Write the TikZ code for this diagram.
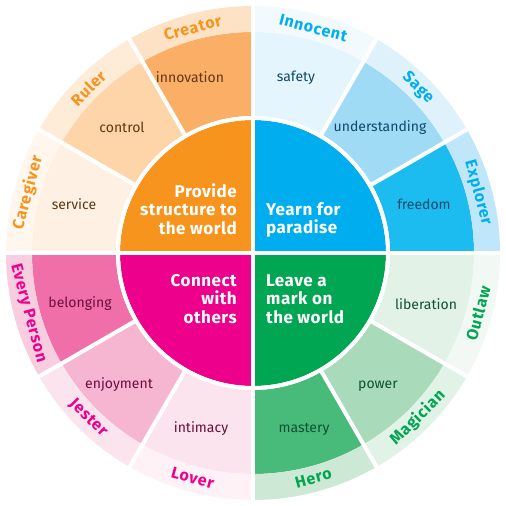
\documentclass[tikz,border=0pt]{standalone}
\usepackage{fontspec}
\setmainfont{Fira Sans}
\usepackage{xcolor}
\usepackage{tikz}
\usetikzlibrary{positioning}

% quadrant colours
\definecolor{orgMain}{HTML}{F7941D}
\definecolor{orgA}{HTML}{FBAF66}
\definecolor{orgB}{HTML}{FDD5A8}
\definecolor{orgC}{HTML}{FEF1E3}
\definecolor{orgBandA}{HTML}{FDE2C5}
\definecolor{orgBandB}{HTML}{FEEBD8}
\definecolor{orgBandC}{HTML}{FFF7EE}
\definecolor{orgText}{HTML}{603813}
\definecolor{bluMain}{HTML}{00AEEF}
\definecolor{bluA}{HTML}{1CBCF0}
\definecolor{bluB}{HTML}{A0DBF6}
\definecolor{bluC}{HTML}{E5F5FD}
\definecolor{bluBandA}{HTML}{BFE7F9}
\definecolor{bluBandB}{HTML}{DFF2FC}
\definecolor{bluBandC}{HTML}{F2FAFE}
\definecolor{bluText}{HTML}{0D4A6B}
\definecolor{grnMain}{HTML}{00A651}
\definecolor{grnA}{HTML}{48BA7A}
\definecolor{grnB}{HTML}{A9DBBA}
\definecolor{grnC}{HTML}{E2F2E7}
\definecolor{grnBandA}{HTML}{CDE9D6}
\definecolor{grnBandB}{HTML}{E1F2E6}
\definecolor{grnBandC}{HTML}{F2F9F4}
\definecolor{grnText}{HTML}{0E5130}
\definecolor{pnkMain}{HTML}{EC008C}
\definecolor{pnkA}{HTML}{F06FA8}
\definecolor{pnkB}{HTML}{F6B5D0}
\definecolor{pnkC}{HTML}{FCE4EF}
\definecolor{pnkBandA}{HTML}{F9CDE0}
\definecolor{pnkBandB}{HTML}{FCE4EF}
\definecolor{pnkBandC}{HTML}{FEF2F7}
\definecolor{pnkText}{HTML}{6B0F3F}

% ring piece: colour, start angle, end angle, inner radius, outer radius
\newcommand{\ringseg}[5]{%
  \fill[#1] (#2:#4) arc[start angle=#2, end angle=#3, radius=#4pt]
    -- (#3:#5) arc[start angle=#3, end angle=#2, radius=#5pt] -- cycle;}
% centre quarter: colour, start angle, end angle
\newcommand{\quarter}[3]{%
  \fill[#1] (0,0) -- (#2:133) arc[start angle=#2, end angle=#3, radius=133pt] -- cycle;}

\begin{document}
\begin{tikzpicture}[x=1pt, y=1pt,
  archetype/.style={font=\fontsize{16}{16}\selectfont\bfseries\addfontfeature{LetterSpace=5}, inner sep=0pt},
  value/.style={font=\fontsize{14}{14}\selectfont, inner sep=0pt},
  drive/.style={font=\fontsize{17}{18.3}\selectfont\bfseries\addfontfeature{LetterSpace=3}, text=white, inner sep=0pt}]
\useasboundingbox (-253,-253) rectangle (253,253);

% centre quarters
\quarter{bluMain}{0}{90}
\quarter{orgMain}{90}{180}
\quarter{pnkMain}{180}{270}
\quarter{grnMain}{270}{360}

% middle ring
\ringseg{bluA}{0}{30}{137}{221}
\ringseg{bluB}{30}{60}{137}{221}
\ringseg{bluC}{60}{90}{137}{221}
\ringseg{orgA}{90}{120}{137}{221}
\ringseg{orgB}{120}{150}{137}{221}
\ringseg{orgC}{150}{180}{137}{221}
\ringseg{pnkA}{180}{210}{137}{221}
\ringseg{pnkB}{210}{240}{137}{221}
\ringseg{pnkC}{240}{270}{137}{221}
\ringseg{grnA}{270}{300}{137}{221}
\ringseg{grnB}{300}{330}{137}{221}
\ringseg{grnC}{330}{360}{137}{221}

% outer band
\ringseg{bluBandA}{0}{30}{221}{247}
\ringseg{bluBandB}{30}{60}{221}{247}
\ringseg{bluBandC}{60}{90}{221}{247}
\ringseg{orgBandA}{90}{120}{221}{247}
\ringseg{orgBandB}{120}{150}{221}{247}
\ringseg{orgBandC}{150}{180}{221}{247}
\ringseg{pnkBandA}{180}{210}{221}{247}
\ringseg{pnkBandB}{210}{240}{221}{247}
\ringseg{pnkBandC}{240}{270}{221}{247}
\ringseg{grnBandA}{270}{300}{221}{247}
\ringseg{grnBandB}{300}{330}{221}{247}
\ringseg{grnBandC}{330}{360}{221}{247}

% white gaps
\draw[white, line width=4pt] (0,0) circle[radius=135pt];
\draw[white, line width=4.5pt] (-250,0) -- (250,0);
\draw[white, line width=4.5pt] (0,-250) -- (0,250);
\foreach \a in {30,60,120,150,210,240,300,330}
  \draw[white, line width=4pt] (\a:134) -- (\a:250);

% drives
\node[drive, align=right, anchor=east] (structure) at (-16,44) {Provide\\structure to\\the world};
\node[drive, align=left, anchor=west] (paradise) at (13,33) {Yearn for\\paradise};
\node[drive, align=right, anchor=east] (connect) at (-16,-46) {Connect\\with\\others};
\node[drive, align=left, anchor=west] (mark) at (13,-46) {Leave a\\mark on\\the world};

% values
\node[value, text=orgText] (innovation) at (-63,176) {innovation};
\node[value, text=orgText] (control) at (-131,126) {control};
\node[value, text=orgText] (service) at (-179,49) {service};
\node[value, text=bluText] (safety) at (43,175) {safety};
\node[value, text=bluText] (understanding) at (127,125) {understanding};
\node[value, text=bluText] (freedom) at (171,49) {freedom};
\node[value, text=pnkText] (belonging) at (-173,-51) {belonging};
\node[value, text=pnkText] (enjoyment) at (-134,-132) {enjoyment};
\node[value, text=pnkText] (intimacy) at (-52,-176) {intimacy};
\node[value, text=grnText] (liberation) at (173,-51) {liberation};
\node[value, text=grnText] (power) at (125,-133) {power};
\node[value, text=grnText] (mastery) at (51,-176) {mastery};

% archetypes
\node[archetype, text=orgMain, rotate=15] (creator) at (105:233) {Creator};
\node[archetype, text=orgMain, rotate=45] (ruler) at (135:233) {Ruler};
\node[archetype, text=orgMain, rotate=75] (caregiver) at (165:233) {Caregiver};
\node[archetype, text=bluMain, rotate=-15] (innocent) at (75:233) {Innocent};
\node[archetype, text=bluMain, rotate=-45] (sage) at (45:233) {Sage};
\node[archetype, text=bluMain, rotate=-75] (explorer) at (15:233) {Explorer};
\node[archetype, text=pnkMain, rotate=-75] (everyperson) at (195:233) {Every Person};
\node[archetype, text=pnkMain, rotate=-45] (jester) at (225:233) {Jester};
\node[archetype, text=pnkMain, rotate=-15] (lover) at (255:233) {Lover};
\node[archetype, text=grnMain, rotate=15] (hero) at (285:233) {Hero};
\node[archetype, text=grnMain, rotate=45] (magician) at (315:233) {Magician};
\node[archetype, text=grnMain, rotate=75] (outlaw) at (345:233) {Outlaw};
\end{tikzpicture}
\end{document}
